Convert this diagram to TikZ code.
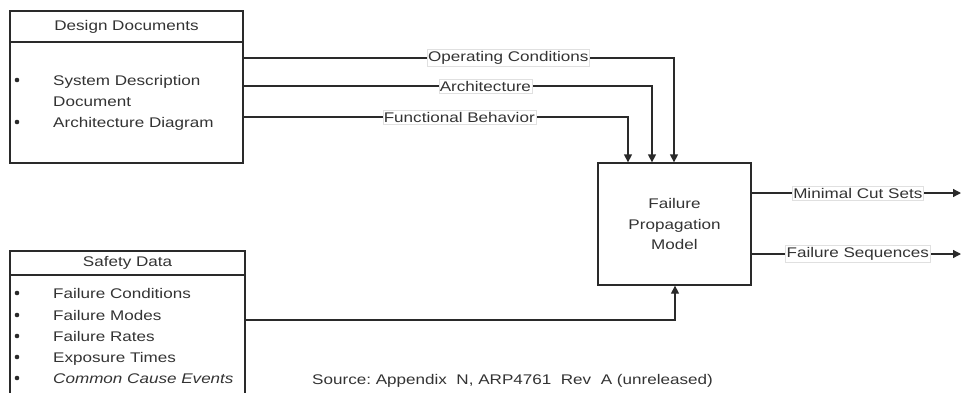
\documentclass[tikz,border=0pt]{standalone}
\usepackage{fontspec}
\setmainfont[FakeStretch=1.22]{Liberation Sans}
\usetikzlibrary{arrows.meta,calc}
\definecolor{ink}{HTML}{2A2A2A}
\definecolor{txt}{HTML}{333333}
\tikzset{
  box/.style={draw=ink, line width=1.3pt, fill=white, inner sep=0pt},
  flow/.style={draw=ink, line width=1.3pt, -{Triangle[width=8pt,length=8pt]}},
  lbl/.style={fill=white, draw=black!12, line width=0.5pt, inner xsep=1pt, inner ysep=2pt, text=txt, font=\fontsize{14}{17}\selectfont},
  item/.style={anchor=base west, inner sep=0pt, text=txt, font=\fontsize{14}{17}\selectfont},
  ttl/.style={inner sep=0pt, text=txt, font=\fontsize{14}{17}\selectfont},
  dot/.style={circle, fill=ink, inner sep=0pt, minimum size=4.6pt},
}
\begin{document}
\begin{tikzpicture}[x=1pt, y=-1pt]
\useasboundingbox (0,0) rectangle (961,392);

% Design documents box
\node[box, minimum width=233pt, minimum height=152pt] (design) at (126.5,87) {};
\draw[ink, line width=1.3pt] (10,42) -- (243,42);
\node[ttl] (designTitle) at (126.5,26.5) {Design Documents};
\node[dot] (dd1) at (17,80) {};
\node[dot] (dd2) at (17,122) {};
\node[item] (sdd) at (53,85) {System Description};
\node[item] (sdd2) at (53,106) {Document};
\node[item] (adg) at (53,127) {Architecture Diagram};

% Safety data box (runs past the lower edge)
\coordinate (sdBL) at (10,400);
\coordinate (sdBR) at (245,400);
\node[inner sep=0pt, minimum width=235pt, minimum height=149pt] (safety) at (127.5,325.5) {};
\draw[ink, line width=1.3pt] (sdBL) -- (10,251) -- (245,251) -- (sdBR);
\draw[ink, line width=1.3pt] (10,275) -- (245,275);
\node[ttl] (safetyTitle) at (127.5,263) {Safety Data};
\foreach \y/\t [count=\i] in {298/Failure Conditions, 320/Failure Modes, 341/Failure Rates, 362/Exposure Times}{
  \node[dot] (sdot\i) at (17,\y-5) {};
  \node[item] (sitem\i) at (53,\y) {\t};
}
\node[dot] (sdot5) at (17,378) {};
\node[item] (sitem5) at (53,383) {\itshape Common Cause Events};

% Failure propagation model
\node[box, minimum width=153pt, minimum height=122pt, text=txt, align=center,
      font=\fontsize{14}{20.5}\selectfont] (model) at (674.5,224)
      {Failure\\Propagation\\Model};

% Inputs from the design documents
\draw[flow] (design.east |- 0,58) -- node[lbl, pos=0.615] (opc) {Operating Conditions} (674,58) -- (674,0 |- model.north);
\draw[flow] (design.east |- 0,86) -- node[lbl, pos=0.592] (arch) {Architecture} (652,86) -- (652,0 |- model.north);
\draw[flow] (design.east |- 0,117) -- node[lbl, pos=0.561] (fb) {Functional Behavior} (628,117) -- (628,0 |- model.north);

% Input from the safety data
\draw[flow] (safety.east |- 0,320) -- (675,320) -- (675,0 |- model.south);

% Outputs
\coordinate (mcsEnd) at (961,193);
\coordinate (fsEnd) at (961,254);
\draw[flow] (model.east |- mcsEnd) -- node[lbl, pos=0.507] (mcs) {Minimal Cut Sets} (mcsEnd);
\draw[flow] (model.east |- fsEnd) -- node[lbl, pos=0.507] (fs) {Failure Sequences} (fsEnd);

% Source note
\node[item] (src) at (312,384) {Source:\ Appendix\ \ N,\ ARP4761\ \ Rev\ \ A\ (unreleased)};
\end{tikzpicture}
\end{document}
